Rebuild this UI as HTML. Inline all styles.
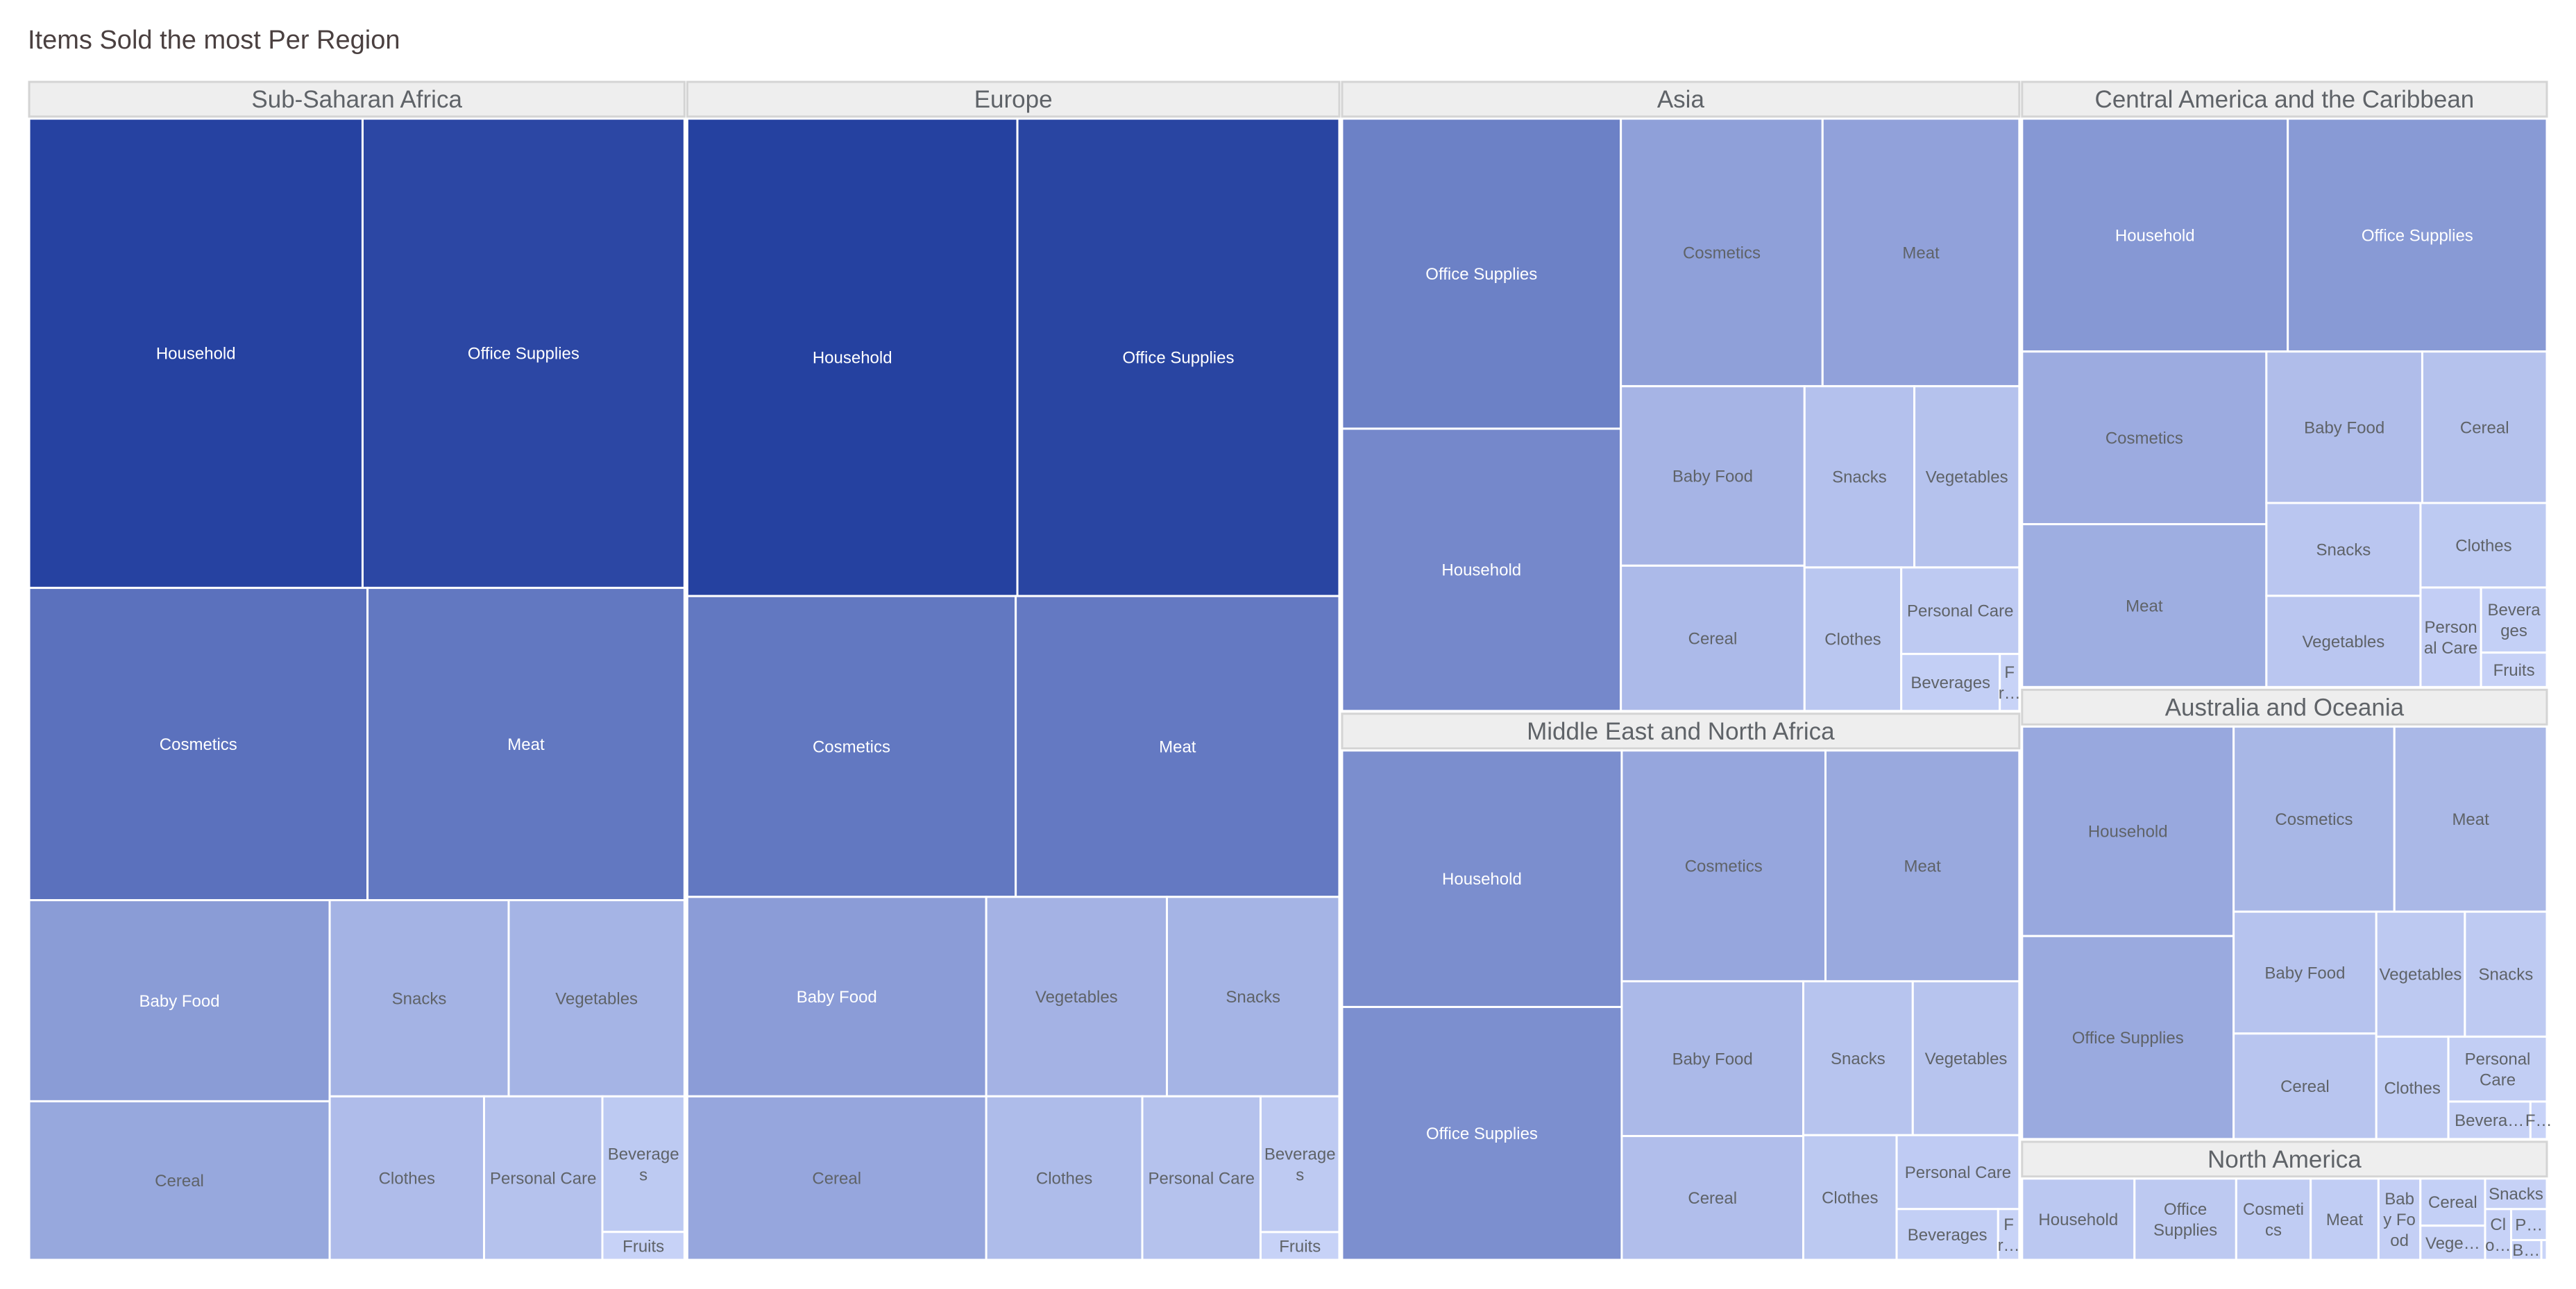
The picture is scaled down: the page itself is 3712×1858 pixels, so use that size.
<!DOCTYPE html>
<html><head><meta charset="utf-8">
<style>
html,body{margin:0;padding:0;background:#fff;}
svg{display:block;font-family:"Liberation Sans",sans-serif;}
</style></head>
<body>
<svg id="chart" width="3712" height="1858" viewBox="0 0 3712 1858" xmlns="http://www.w3.org/2000/svg">
<text x="40" y="70" font-size="38" fill="#4a4040">Items Sold the most Per Region</text>
<g id="plot"></g>
</svg>
<script>
const regions = ["Sub-Saharan Africa","Europe","Asia","Middle East and North Africa","Central America and the Caribbean","Australia and Oceania","North America"];
const items = ["Household","Office Supplies","Cosmetics","Meat","Baby Food","Cereal","Snacks","Vegetables","Clothes","Personal Care","Beverages","Fruits"];
const ssaValues    = [6001,5794,4053,3797,2318,1828,1347,1323,968,742,427,88];
const europeValues = [6045,5895,3790,3734,2287,1875,1319,1382,979,742,410,84];
const asiaValues   = [3112,3417,2134,2082,1303,1055,787,752,549,404,222,44];
const menaValues   = [2865,2825,1878,1787,1122,898,673,655,465,362,206,43];
const cacValues    = [2456,2395,1674,1579,937,749,568,558,424,239,170,90];
const ausValues    = [1802,1746,1210,1148,707,612,417,450,300,260,125,25];
const naValues     = [504,456,334,304,188,168,104,122,73,61,33,6];
const regionValues = [ssaValues,europeValues,asiaValues,menaValues,cacValues,ausValues,naValues];

const NS="http://www.w3.org/2000/svg";
const plot=document.getElementById('plot');
const PX=40, PY=116, PW=3632, PH=1702, HEAD=50;
const maxV=Math.max(...regionValues.flat());
const light=[201,212,248], dark=[37,65,160];
function color(v){const t=v/maxV;return 'rgb('+light.map((c,i)=>Math.round(c+(dark[i]-c)*t)).join(',')+')';}

function worst(row,side){const s=row.reduce((a,b)=>a+b,0);const mx=Math.max(...row),mn=Math.min(...row);return Math.max(side*side*mx/(s*s),(s*s)/(side*side*mn));}
function squarify(vals,x,y,w,h){
  const sum=vals.reduce((a,b)=>a+b,0);
  const idx=vals.map((v,i)=>i).sort((a,b)=>vals[b]-vals[a]);
  const areas=idx.map(i=>vals[i]*w*h/sum);
  const out=new Array(vals.length);
  let i=0;
  while(i<areas.length){
    const side=Math.min(w,h);
    let row=[areas[i]], ids=[idx[i]]; i++;
    while(i<areas.length && worst(row.concat([areas[i]]),side)<=worst(row,side)){row.push(areas[i]);ids.push(idx[i]);i++;}
    const s=row.reduce((a,b)=>a+b,0);
    if(w>=h){const cw=s/h;let cy=y;row.forEach((a,k)=>{const ch=a/cw;out[ids[k]]={x:x,y:cy,w:cw,h:ch};cy+=ch;});x+=cw;w-=cw;}
    else{const rh=s/w;let cx=x;row.forEach((a,k)=>{const cw2=a/rh;out[ids[k]]={x:cx,y:y,w:cw2,h:rh};cx+=cw2;});y+=rh;h-=rh;}
  }
  return out;
}
const cv=document.createElement('canvas').getContext('2d');
function tw(t,fs){cv.font=fs+'px "Liberation Sans", sans-serif';return cv.measureText(t).width;}
function wrapLabel(t,w,h,fs){
  const lh=fs*1.25, maxL=Math.max(1,Math.floor(h/lh));
  if(tw(t,fs)<=w) return [t];
  let lines=[],cur='';
  const words=t.split(' ');
  let ok=words.every(wd=>tw(wd,fs)<=w);
  if(ok){words.forEach(wd=>{const c=cur?cur+' '+wd:wd;if(tw(c,fs)<=w)cur=c;else{lines.push(cur);cur=wd;}});lines.push(cur);}
  else{for(const ch of t){if(ch===' '&&!cur)continue;const c=cur+ch;if(tw(c,fs)<=w)cur=c;else{lines.push(cur);cur=ch===' '?'':ch;}}if(cur)lines.push(cur);}
  if(lines.length>maxL){lines=lines.slice(0,maxL);let l=lines[maxL-1];while(l.length>1&&tw(l+'…',fs)>w)l=l.slice(0,-1);lines[maxL-1]=l+'…';}
  return lines;
}
const totals=regionValues.map(a=>a.reduce((x,y)=>x+y,0));
const rrects=squarify(totals,PX,PY,PW,PH);
regions.forEach((name,r)=>{
  const R=rrects[r];
  const g=document.createElementNS(NS,'g');
  
  
  plot.appendChild(g);
  const hx=R.x+2,hy=R.y+2,hw=R.w-4;
  const hr=document.createElementNS(NS,'rect');
  hr.setAttribute('x',hx);hr.setAttribute('y',hy);hr.setAttribute('width',hw);hr.setAttribute('height',HEAD);
  hr.setAttribute('fill','#eeeeee');hr.setAttribute('stroke','#d4d4d4');hr.setAttribute('stroke-width','3');
  
  
  g.appendChild(hr);
  const ht=document.createElementNS(NS,'text');
  ht.setAttribute('x',hx+hw/2);ht.setAttribute('y',hy+HEAD/2+12);ht.setAttribute('text-anchor','middle');
  ht.setAttribute('font-size','35');ht.setAttribute('fill','#5f6368');ht.textContent=name;
  
  
  g.appendChild(ht);
  const vals=regionValues[r];
  const ix=R.x+2,iy=R.y+HEAD+5,iw=R.w-4,ih=R.h-HEAD-7;
  const cells=squarify(vals,ix,iy,iw,ih);
  cells.forEach((c,k)=>{
    const rc=document.createElementNS(NS,'rect');
    rc.setAttribute('x',c.x);rc.setAttribute('y',c.y);rc.setAttribute('width',c.w);rc.setAttribute('height',c.h);
    rc.setAttribute('fill',color(vals[k]));rc.setAttribute('stroke','#ffffff');rc.setAttribute('stroke-width','3');
    
    
    g.appendChild(rc);
    const fs=24;
    if(c.h<fs*1.1||c.w<14) return;
    const lines=wrapLabel(items[k],c.w-8,c.h-4,fs);
    const t=document.createElementNS(NS,'text');
    t.setAttribute('text-anchor','middle');t.setAttribute('font-size',fs);
    t.setAttribute('fill',vals[k]/maxV>0.37?'#ffffff':'#5f6368');
    
    
    const lh=fs*1.25, y0=c.y+c.h/2-(lines.length-1)*lh/2+fs*0.35;
    lines.forEach((l,j)=>{const ts=document.createElementNS(NS,'tspan');ts.setAttribute('x',c.x+c.w/2);ts.setAttribute('y',y0+j*lh);ts.textContent=l;t.appendChild(ts);});
    g.appendChild(t);
  });
});
</script>
</body></html>
